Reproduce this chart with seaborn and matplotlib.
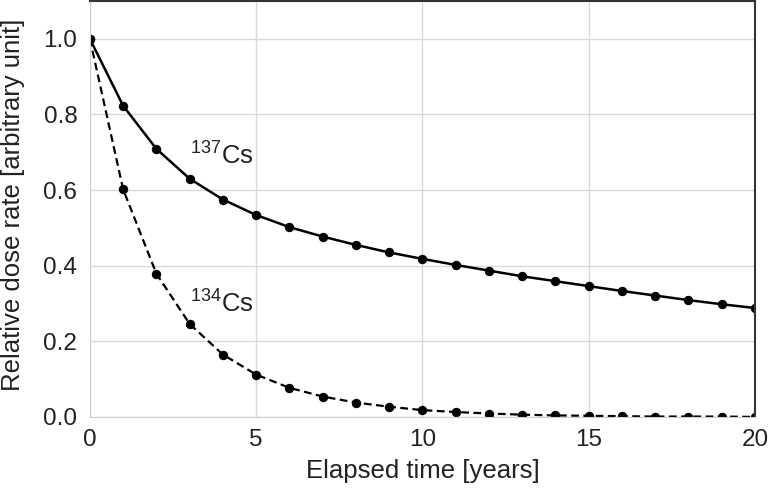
import numpy as np
import matplotlib
matplotlib.use("Agg")
import matplotlib.pyplot as plt
import seaborn as sns

# values (yearly points)
years = list(range(0, 21))
cs137 = [1.0, 0.823, 0.709, 0.630, 0.575, 0.534, 0.502, 0.477, 0.455, 0.435,
         0.418, 0.402, 0.387, 0.372, 0.359, 0.346, 0.333, 0.321, 0.309, 0.298, 0.288]
cs134 = [1.0, 0.602, 0.379, 0.246, 0.165, 0.112, 0.077, 0.054, 0.038, 0.027,
         0.018, 0.013, 0.009, 0.006, 0.004, 0.003, 0.002, 0.001, 0.001, 0.001, 0.0]
x_ticks = [0, 5, 10, 15, 20]
y_ticks = [0.0, 0.2, 0.4, 0.6, 0.8, 1.0]

sns.set_style("white")
plt.rcParams["font.family"] = ["Liberation Sans", "DejaVu Sans"]
plt.rcParams["mathtext.fontset"] = "custom"
plt.rcParams["mathtext.rm"] = "Liberation Sans"

fig = plt.figure(figsize=(7.68, 4.94), dpi=100)
ax = fig.add_axes([0.117, 0.156, 0.866, 0.842])

sns.lineplot(x=years, y=cs137, ax=ax, color="black", linewidth=1.8,
             marker="o", markersize=6, markeredgecolor="black")
sns.lineplot(x=years, y=cs134, ax=ax, color="black", linewidth=1.6,
             linestyle=(0, (3.5, 2)), marker="o", markersize=6,
             markeredgecolor="black")

ax.set_xlim(0, 20)
ax.set_ylim(0, 1.1)
ax.set_xticks(x_ticks)
ax.set_yticks(y_ticks)
ax.set_xticklabels([str(t) for t in x_ticks])
ax.set_yticklabels([f"{t:.1f}" for t in y_ticks])
ax.tick_params(labelsize=17.5, length=0, colors="#222222")
ax.tick_params(axis="x", pad=9)
ax.tick_params(axis="y", pad=9)
ax.grid(True, color="#d9d9d9", linewidth=1)
ax.set_axisbelow(True)

for side in ["left", "bottom"]:
    ax.spines[side].set_color("#d0d0d0")
for side in ["top", "right"]:
    ax.spines[side].set_color("#333333")
    ax.spines[side].set_linewidth(1.5)

ax.set_xlabel("Elapsed time [years]", fontsize=18.5, color="#222222", va="center")
ax.set_ylabel("Relative dose rate [arbitrary unit]", fontsize=18.5,
              color="#222222", va="center")
ax.xaxis.set_label_coords(0.5, -0.13)
ax.yaxis.set_label_coords(-0.116, 0.51)

ax.text(3.0, 0.67, r"$^{137}$Cs", fontsize=18.5, color="#222222", va="baseline")
ax.text(3.0, 0.278, r"$^{134}$Cs", fontsize=18.5, color="#222222", va="baseline")

fig.savefig("out.png", dpi=100)
